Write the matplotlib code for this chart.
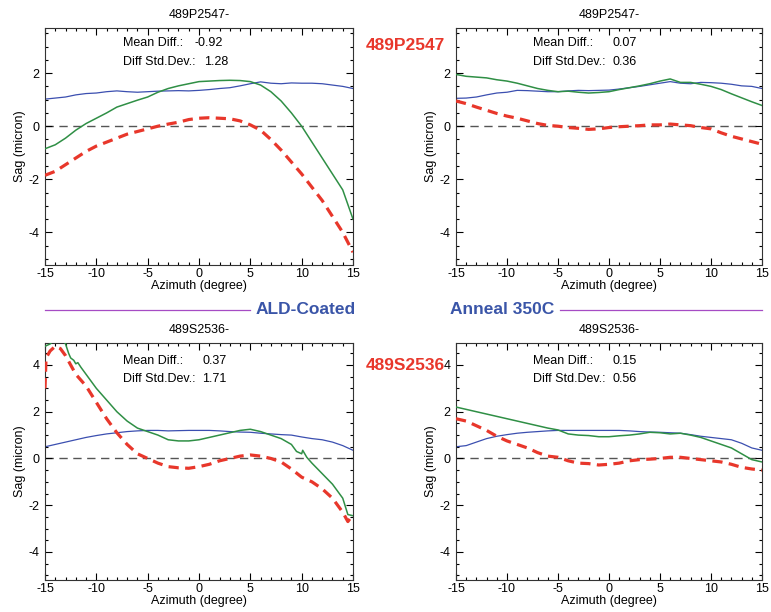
"""Sag vs azimuth comparison panels (ALD-coated vs annealed)."""

import matplotlib.pyplot as plt
from matplotlib.ticker import MultipleLocator

BLUE = "#3b4fb0"
GREEN = "#2f8f45"
RED = "#e8372b"
ZERO = "#555555"
PURPLE = "#a64cc4"
LABEL_BLUE = "#3a55a8"

# common azimuth grid (degrees)
AZ = list(range(-15, 16))

# --- 489P2547, ALD-coated (top left)
TL_BLUE = [1.02, 1.06, 1.1, 1.18, 1.23, 1.25, 1.3, 1.33, 1.3, 1.28, 1.3, 1.32, 1.33, 1.34, 1.33,
           1.35, 1.38, 1.42, 1.45, 1.52, 1.6, 1.67, 1.62, 1.6, 1.63, 1.62, 1.62, 1.6, 1.55, 1.5, 1.42]
TL_GREEN = [-0.85, -0.7, -0.45, -0.15, 0.1, 0.3, 0.5, 0.72, 0.85, 0.98, 1.1, 1.28, 1.42, 1.52, 1.6,
            1.68, 1.7, 1.72, 1.73, 1.72, 1.68, 1.55, 1.3, 0.95, 0.5, 0.0, -0.6, -1.2, -1.8, -2.4, -3.5]
TL_RED = [-1.85, -1.7, -1.45, -1.2, -0.95, -0.75, -0.6, -0.45, -0.3, -0.2, -0.1, 0.0, 0.08, 0.15, 0.25,
          0.3, 0.32, 0.3, 0.28, 0.2, 0.05, -0.15, -0.5, -0.9, -1.35, -1.8, -2.3, -2.8, -3.4, -4.0, -4.75]

# --- 489P2547, anneal 350C (top right)
TR_BLUE = [1.05, 1.06, 1.1, 1.18, 1.25, 1.28, 1.35, 1.34, 1.32, 1.3, 1.3, 1.33, 1.35, 1.34, 1.35,
           1.36, 1.4, 1.45, 1.5, 1.56, 1.62, 1.68, 1.62, 1.6, 1.65, 1.64, 1.62, 1.58, 1.52, 1.5, 1.42]
TR_GREEN = [1.95, 1.88, 1.85, 1.82, 1.75, 1.7, 1.62, 1.52, 1.42, 1.35, 1.3, 1.32, 1.28, 1.25, 1.27,
            1.3, 1.38, 1.45, 1.52, 1.6, 1.7, 1.78, 1.65, 1.65, 1.58, 1.5, 1.38, 1.22, 1.07, 0.92, 0.78]
TR_RED = [0.95, 0.85, 0.72, 0.6, 0.48, 0.38, 0.3, 0.2, 0.1, 0.03, 0.0, -0.05, -0.08, -0.12, -0.1,
          -0.05, -0.02, 0.0, 0.02, 0.05, 0.05, 0.08, 0.05, 0.02, -0.05, -0.1, -0.25, -0.38, -0.48, -0.58, -0.68]

# --- 489S2536, ALD-coated (bottom left)
BL_BLUE = [0.5, 0.6, 0.7, 0.8, 0.9, 0.98, 1.05, 1.1, 1.15, 1.18, 1.2, 1.2, 1.18, 1.19, 1.2,
           1.2, 1.2, 1.18, 1.15, 1.13, 1.12, 1.08, 1.05, 1.02, 1.0, 0.92, 0.85, 0.8, 0.7, 0.55, 0.35]
BL_GREEN_X = [-15, -14.5, -14, -13.5, -13, -12.7, -12.5, -12.2, -12, -11.8, -11.5, -11, -10, -9, -8, -7, -6,
              -5, -4, -3, -2, -1, 0, 1, 2, 3, 4, 5, 6, 7, 8, 9, 9.5, 10, 10.1, 10.5, 11, 12, 13, 14, 14.5, 15]
BL_GREEN = [4.8, 4.9, 5.1, 5.2, 4.9, 4.5, 4.3, 4.2, 4.05, 4.1, 3.9, 3.6, 3.0, 2.5, 2.0, 1.6, 1.3,
            1.15, 1.0, 0.8, 0.75, 0.75, 0.8, 0.9, 1.0, 1.1, 1.2, 1.25, 1.15, 1.0, 0.85, 0.6, 0.3, 0.2, 0.35,
            0.05, -0.2, -0.65, -1.1, -1.7, -2.4, -2.45]
BL_RED_X = [-15, -14.9, -14.5, -14, -13.5, -13, -12, -11, -10, -9, -8, -7, -6, -5, -4, -3, -2, -1,
            0, 1, 2, 3, 4, 5, 6, 7, 8, 9, 10, 11, 12, 13, 14, 14.5, 15]
BL_RED = [3.0, 4.3, 4.6, 4.8, 4.7, 4.4, 3.6, 3.1, 2.4, 1.7, 1.1, 0.6, 0.2, 0.0, -0.2, -0.35, -0.4, -0.42,
          -0.35, -0.25, -0.1, 0.0, 0.1, 0.15, 0.1, 0.0, -0.15, -0.45, -0.8, -1.0, -1.3, -1.7, -2.3, -2.7, -2.4]

# --- 489S2536, anneal 350C (bottom right)
BR_BLUE = [0.5, 0.55, 0.7, 0.85, 0.95, 1.02, 1.08, 1.12, 1.15, 1.18, 1.2, 1.2, 1.2, 1.2, 1.2,
           1.2, 1.2, 1.18, 1.15, 1.13, 1.12, 1.1, 1.08, 1.02, 0.95, 0.9, 0.85, 0.8, 0.65, 0.45, 0.35]
BR_GREEN = [2.2, 2.1, 2.0, 1.9, 1.8, 1.7, 1.6, 1.5, 1.4, 1.3, 1.22, 1.05, 1.0, 0.98, 0.93,
            0.93, 0.97, 1.0, 1.05, 1.12, 1.1, 1.05, 1.08, 1.0, 0.9, 0.75, 0.6, 0.45, 0.2, -0.05, -0.15]
BR_RED = [1.7, 1.6, 1.4, 1.2, 0.95, 0.75, 0.6, 0.45, 0.25, 0.1, 0.05, -0.1, -0.2, -0.22, -0.28,
          -0.25, -0.2, -0.1, -0.05, -0.03, 0.0, 0.05, 0.05, 0.0, -0.05, -0.1, -0.15, -0.25, -0.38, -0.45, -0.5]

TITLES = ["489P2547-", "489P2547-", "489S2536-", "489S2536-"]
MEAN_DIFF = ["-0.92", "0.07", "0.37", "0.15"]
STD_DEV = ["1.28", "0.36", "1.71", "0.56"]
YLIMS = [(-5.23, 3.7), (-5.23, 3.7), (-5.2, 4.94), (-5.2, 4.94)]

W, H = 771, 612


def px_axes(fig, left, top, right, bottom):
    return fig.add_axes([left / W, 1 - bottom / H, (right - left) / W, (bottom - top) / H])


def panel(ax, idx, blue, green, red, green_x=AZ, red_x=AZ):
    ax.axhline(0, color=ZERO, linewidth=1.0, linestyle=(0, (6, 4)), zorder=1)
    ax.plot(AZ, blue, color=BLUE, linewidth=0.9, zorder=2)
    ax.plot(green_x, green, color=GREEN, linewidth=1.1, zorder=3)
    ax.plot(red_x, red, color=RED, linewidth=2.3, linestyle=(0, (3.2, 2.0)), zorder=4)

    ax.set_xlim(-15, 15)
    ax.set_ylim(*YLIMS[idx])
    ax.xaxis.set_major_locator(MultipleLocator(5))
    ax.xaxis.set_minor_locator(MultipleLocator(1))
    ax.yaxis.set_major_locator(MultipleLocator(2))
    ax.yaxis.set_minor_locator(MultipleLocator(0.5))
    ax.tick_params(which="both", direction="in", top=True, right=True, labelsize=9, width=0.8)
    ax.tick_params(which="major", length=5)
    ax.tick_params(which="minor", length=2.5)
    ax.tick_params(axis="x", which="major", pad=2.5)
    ax.tick_params(axis="y", which="major", pad=4)
    ax.set_xticklabels([f"{int(v)}" for v in ax.get_xticks()])
    ax.set_yticklabels([f"{int(v)}" for v in ax.get_yticks()])
    for spine in ax.spines.values():
        spine.set_linewidth(0.8)
        spine.set_color("#333333")

    ax.set_title(TITLES[idx], fontsize=9, pad=7)
    ax.set_xlabel("Azimuth (degree)", fontsize=9, labelpad=0)
    ax.set_ylabel("Sag (micron)", fontsize=9, labelpad=2)

    top_rows = idx < 2
    y1, y2 = (0.937, 0.857) if top_rows else (0.925, 0.846)
    ax.text(0.253, y1, "Mean Diff.:", transform=ax.transAxes, fontsize=9, va="center")
    ax.text(0.253, y2, "Diff Std.Dev.:", transform=ax.transAxes, fontsize=9, va="center")
    mx = 0.484 if MEAN_DIFF[idx].startswith("-") else 0.51
    ax.text(mx, y1, MEAN_DIFF[idx], transform=ax.transAxes, fontsize=9, va="center")
    sx = 0.516 if idx == 0 else 0.51
    ax.text(sx, y2, STD_DEV[idx], transform=ax.transAxes, fontsize=9, va="center")


def main():
    plt.rcParams["font.family"] = ["Liberation Sans", "DejaVu Sans"]
    fig = plt.figure(figsize=(W / 100, H / 100), dpi=100)

    ax_tl = px_axes(fig, 45, 28, 353, 265)
    ax_tr = px_axes(fig, 456, 28, 762, 265)
    ax_bl = px_axes(fig, 45, 343, 353, 580)
    ax_br = px_axes(fig, 456, 343, 762, 580)

    panel(ax_tl, 0, TL_BLUE, TL_GREEN, TL_RED)
    panel(ax_tr, 1, TR_BLUE, TR_GREEN, TR_RED)
    panel(ax_bl, 2, BL_BLUE, BL_GREEN, BL_RED, BL_GREEN_X, BL_RED_X)
    panel(ax_br, 3, BR_BLUE, BR_GREEN, BR_RED)

    # sample labels between the columns
    fig.text(405 / W, 1 - 45 / H, "489P2547", color=RED, fontsize=12.5, fontweight="bold",
             ha="center", va="center")
    fig.text(405 / W, 1 - 365 / H, "489S2536", color=RED, fontsize=12.5, fontweight="bold",
             ha="center", va="center")

    # condition labels with rules
    fig.add_artist(plt.Line2D([45 / W, 250 / W], [1 - 310 / H] * 2, color=PURPLE, linewidth=0.9))
    fig.add_artist(plt.Line2D([560 / W, 762 / W], [1 - 310 / H] * 2, color=PURPLE, linewidth=0.9))
    fig.text(306 / W, 1 - 310 / H, "ALD-Coated", color=LABEL_BLUE, fontsize=12.5, fontweight="bold",
             ha="center", va="center")
    fig.text(502 / W, 1 - 310 / H, "Anneal 350C", color=LABEL_BLUE, fontsize=12.5, fontweight="bold",
             ha="center", va="center")

    fig.savefig("out.png", dpi=100)


if __name__ == "__main__":
    main()
